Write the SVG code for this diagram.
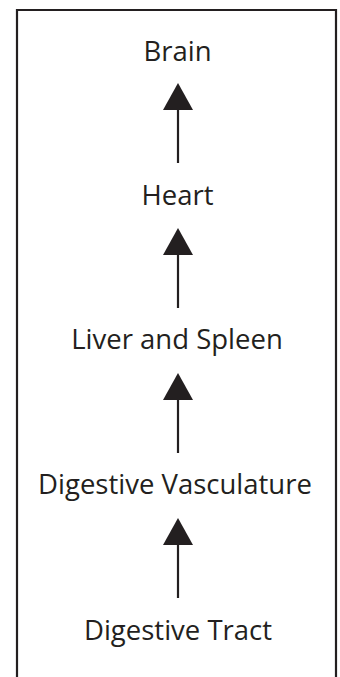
<svg xmlns="http://www.w3.org/2000/svg" width="340" height="677" viewBox="0 0 340 677">
<style>
.lbl{font-family:"Open Sans","Noto Sans","Liberation Sans",sans-serif;font-size:27.5px;fill:#231f20;text-anchor:middle}
.shaft{stroke:#231f20;stroke-width:2.2;fill:none}
.head{fill:#231f20}
</style>
<rect width="340" height="677" fill="#ffffff"/>
<path d="M17,677 V10 H336 V677" fill="none" stroke="#231f20" stroke-width="2.2"/>
<g id="brain"><text class="lbl" x="177.5" y="61">Brain</text></g>
<g id="heart"><text class="lbl" x="177.5" y="205">Heart</text></g>
<g id="liver-spleen"><text class="lbl" x="177" y="349">Liver and Spleen</text></g>
<g id="digestive-vasculature"><text class="lbl" x="175" y="494">Digestive Vasculature</text></g>
<g id="digestive-tract"><text class="lbl" x="178" y="640">Digestive Tract</text></g>
<g id="connectors">
<line class="shaft" x1="178" y1="163" x2="178" y2="105"/>
<polygon class="head" points="178,83 193,110 163,110"/>
<line class="shaft" x1="178" y1="308" x2="178" y2="250"/>
<polygon class="head" points="178,228 193,255 163,255"/>
<line class="shaft" x1="178" y1="453" x2="178" y2="395"/>
<polygon class="head" points="178,373 193,400 163,400"/>
<line class="shaft" x1="178" y1="598" x2="178" y2="540"/>
<polygon class="head" points="178,518 193,545 163,545"/>
</g>
</svg>
